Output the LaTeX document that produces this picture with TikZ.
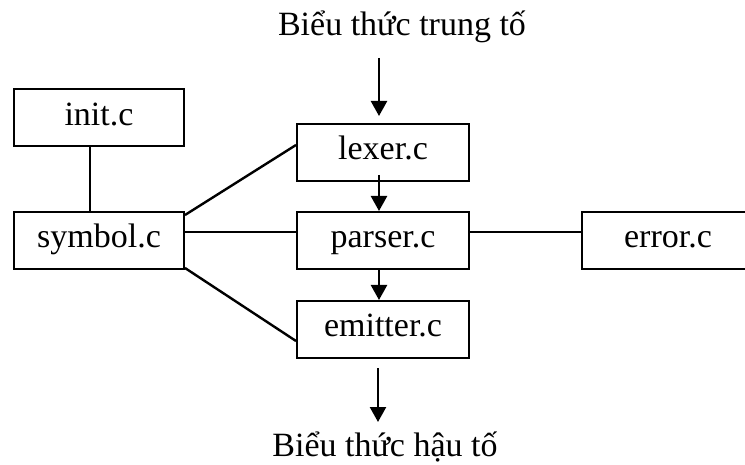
\documentclass[tikz,border=0pt]{standalone}
\usepackage{fontspec}
\setmainfont{Liberation Serif}
\usetikzlibrary{arrows.meta}
\begin{document}
\begin{tikzpicture}[x=1pt,y=-1pt,
  modbox/.style={draw,line width=2pt,inner sep=0pt,minimum width=172pt,minimum height=57pt,
    text height=22pt,text depth=7pt,font=\fontsize{34}{40}\selectfont},
  label/.style={inner sep=0pt,anchor=base,font=\fontsize{34}{40}\selectfont},
  link/.style={line width=2.4pt},
  arr/.style={line width=2.4pt,-{Triangle[length=15pt,width=16pt]}}]
\useasboundingbox (0,0) rectangle (745,465);
\clip (0,0) rectangle (745,465);

% modules
\node[modbox,minimum width=170pt] (init) at (99,118) {init.c};
\node[modbox,minimum width=170pt] (symbol) at (99,240.5) {symbol.c};
\node[modbox] (lexer) at (383,152.5) {lexer.c};
\node[modbox] (parser) at (383,240.5) {parser.c};
\node[modbox] (emitter) at (383,329.5) {emitter.c};
\node[modbox] (error) at (668,240.5) {error.c};

% input and output
\node[label] (infix) at (402,36) {Biểu thức trung tố};
\node[label] (postfix) at (385,456.5) {Biểu thức hậu tố};

% links between modules
\draw[link] ([xshift=-9pt]init.south) -- ([xshift=-9pt]symbol.north);
\draw[link] ([yshift=-4pt]symbol.north east) -- ([yshift=7.5pt]lexer.west);
\draw[link] ([yshift=8.5pt]symbol.east) -- ([yshift=8.5pt]parser.west);
\draw[link] ([yshift=8.5pt]parser.east) -- ([yshift=8.5pt]error.west);
\draw[link] ([yshift=2pt]symbol.south east) -- ([yshift=-11.5pt]emitter.west);

% data flow
\draw[arr] ([xshift=-4pt,yshift=65pt]lexer.north) -- ([xshift=-4pt,yshift=7pt]lexer.north);
\draw[arr] ([xshift=-4pt,yshift=7pt]lexer.south) -- ([xshift=-4pt]parser.north);
\draw[arr] ([xshift=-4pt]parser.south) -- ([xshift=-4pt]emitter.north);
\draw[arr] ([xshift=-5pt,yshift=-9pt]emitter.south) -- ([xshift=-5pt,yshift=-63pt]emitter.south);
\end{tikzpicture}
\end{document}
